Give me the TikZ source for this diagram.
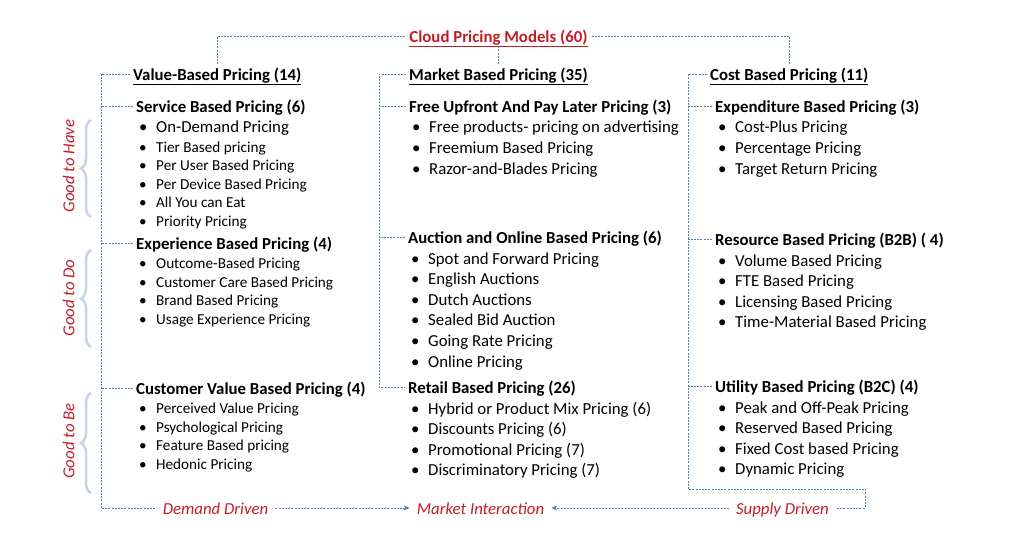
\documentclass[tikz,border=0pt]{standalone}
\usepackage{fontspec}
\setmainfont{Carlito}
\usetikzlibrary{positioning,arrows.meta,decorations.pathreplacing}

\definecolor{linkblue}{RGB}{84,130,180}
\definecolor{labelred}{RGB}{192,30,40}
\definecolor{bracegrey}{RGB}{200,210,232}

\begin{document}
\begin{tikzpicture}[x=1pt, y=1pt,
        textnode/.style={inner xsep=3pt, inner ysep=0pt, text height=16.5pt, text depth=3.7pt},
        titlenode/.style={textnode, inner xsep=4pt, font=\fontsize{16.8}{20}\selectfont\bfseries, text=labelred},
        headnode/.style={textnode, anchor=west, font=\fontsize{16.8}{20}\selectfont\bfseries},
        bignode/.style={textnode, font=\fontsize{16.8}{20}\selectfont,
            execute at begin node={\hspace*{3pt}\makebox[17pt][l]{\textbullet}}},
        smallnode/.style={bignode, text height=15pt, text depth=3.2pt, font=\fontsize{15.2}{18}\selectfont},
        drivenode/.style={textnode, inner xsep=7pt, font=\fontsize{16.8}{20}\selectfont\itshape, text=labelred},
        sidenode/.style={drivenode, inner xsep=0pt, rotate=90},
        treeline/.style={draw=linkblue, line width=0.7pt, dash pattern=on 2pt off 1.2pt},
        bracket/.style={draw=bracegrey, line width=2.5pt, decorate, decoration={brace, amplitude=10pt}},
        node distance=0pt
    ]
    \useasboundingbox (0,0) rectangle (1024,-537);

    %Nodes: root and the three families
    \node[titlenode] (cloud_title) at (498.5,-36) {\underline{Cloud Pricing Models (60)}};
    \node[headnode]  (value_head)  at (130,-74)   {\underline{Value-Based Pricing (14)}};
    \node[headnode]  (market_head) at (406,-74)   {\underline{Market Based Pricing (35)}};
    \node[headnode]  (cost_head)   at (707,-74)   {\underline{Cost Based Pricing (11)}};

    %Nodes: value based
    \node[headnode]  (service_head) at (133,-106) {Service Based Pricing (6)};
    \node[bignode]   (service_a) [below right=of service_head.south west] {On-Demand Pricing};
    \node[smallnode] (service_b) [below right=of service_a.south west]    {Tier Based pricing};
    \node[smallnode] (service_c) [below right=of service_b.south west]    {Per User Based Pricing};
    \node[smallnode] (service_d) [below right=of service_c.south west]    {Per Device Based Pricing};
    \node[smallnode] (service_e) [below right=of service_d.south west]    {All You can Eat};
    \node[smallnode] (service_f) [below right=of service_e.south west]    {Priority Pricing};

    \node[headnode]  (experience_head) at (133,-243) {Experience Based Pricing (4)};
    \node[smallnode] (experience_a) [below right=of experience_head.south west] {Outcome-Based Pricing};
    \node[smallnode] (experience_b) [below right=of experience_a.south west]    {Customer Care Based Pricing};
    \node[smallnode] (experience_c) [below right=of experience_b.south west]    {Brand Based Pricing};
    \node[smallnode] (experience_d) [below right=of experience_c.south west]    {Usage Experience Pricing};

    \node[headnode]  (customer_head) at (133,-388) {Customer Value Based Pricing (4)};
    \node[smallnode] (customer_a) [below right=of customer_head.south west] {Perceived Value Pricing};
    \node[smallnode] (customer_b) [below right=of customer_a.south west]    {Psychological Pricing};
    \node[smallnode] (customer_c) [below right=of customer_b.south west]    {Feature Based pricing};
    \node[smallnode] (customer_d) [below right=of customer_c.south west]    {Hedonic Pricing};

    %Nodes: market based
    \node[headnode] (free_head) at (406,-106) {Free Upfront And Pay Later Pricing (3)};
    \node[bignode]  (free_a) [below right=of free_head.south west] {Free products- pricing on advertising};
    \node[bignode]  (free_b) [below right=of free_a.south west]    {Freemium Based Pricing};
    \node[bignode]  (free_c) [below right=of free_b.south west]    {Razor-and-Blades Pricing};

    \node[headnode] (auction_head) at (405,-237) {Auction and Online Based Pricing (6)};
    \node[bignode]  (auction_a) [below right=of auction_head.south west] {Spot and Forward Pricing};
    \node[bignode]  (auction_b) [below right=of auction_a.south west]    {English Auctions};
    \node[bignode]  (auction_c) [below right=of auction_b.south west]    {Dutch Auctions};
    \node[bignode]  (auction_d) [below right=of auction_c.south west]    {Sealed Bid Auction};
    \node[bignode]  (auction_e) [below right=of auction_d.south west]    {Going Rate Pricing};
    \node[bignode]  (auction_f) [below right=of auction_e.south west]    {Online Pricing};

    \node[headnode] (retail_head) at (405,-387) {Retail Based Pricing (26)};
    \node[bignode]  (retail_a) [below right=of retail_head.south west] {Hybrid or Product Mix Pricing (6)};
    \node[bignode]  (retail_b) [below right=of retail_a.south west]    {Discounts Pricing (6)};
    \node[bignode]  (retail_c) [below right=of retail_b.south west]    {Promotional Pricing (7)};
    \node[bignode]  (retail_d) [below right=of retail_c.south west]    {Discriminatory Pricing (7)};

    %Nodes: cost based
    \node[headnode] (expend_head) at (712,-106) {Expenditure Based Pricing (3)};
    \node[bignode]  (expend_a) [below right=of expend_head.south west] {Cost-Plus Pricing};
    \node[bignode]  (expend_b) [below right=of expend_a.south west]    {Percentage Pricing};
    \node[bignode]  (expend_c) [below right=of expend_b.south west]    {Target Return Pricing};

    \node[headnode] (resource_head) at (712,-239) {Resource Based Pricing (B2B) ( 4)};
    \node[bignode]  (resource_a) [below right=of resource_head.south west] {Volume Based Pricing};
    \node[bignode]  (resource_b) [below right=of resource_a.south west]    {FTE Based Pricing};
    \node[bignode]  (resource_c) [below right=of resource_b.south west]    {Licensing Based Pricing};
    \node[bignode]  (resource_d) [below right=of resource_c.south west]    {Time-Material Based Pricing};

    \node[headnode] (utility_head) at (712,-386) {Utility Based Pricing (B2C) (4)};
    \node[bignode]  (utility_a) [below right=of utility_head.south west] {Peak and Off-Peak Pricing};
    \node[bignode]  (utility_b) [below right=of utility_a.south west]    {Reserved Based Pricing};
    \node[bignode]  (utility_c) [below right=of utility_b.south west]    {Fixed Cost based Pricing};
    \node[bignode]  (utility_d) [below right=of utility_c.south west]    {Dynamic Pricing};

    %Nodes: drivers along the bottom
    \node[drivenode] (demand_label)      at (215.5,-508) {Demand Driven};
    \node[drivenode] (interaction_label) at (480.5,-508) {Market Interaction};
    \node[drivenode] (supply_label)      at (782.5,-508) {Supply Driven};

    %Braces and side labels
    \draw[bracket] (91,-217) -- (91,-120);
    \draw[bracket] (91,-347) -- (91,-250);
    \draw[bracket] (91,-493) -- (91,-393);
    \node[sidenode] (have_label) at (68,-166) {Good to Have};
    \node[sidenode] (do_label)   at (68,-298) {Good to Do};
    \node[sidenode] (be_label)   at (68,-441) {Good to Be};

    %Dashed lines: root to families
    \coordinate (value_corner)  at (101,-508);
    \coordinate (market_spine)  at (379,0);
    \coordinate (cost_corner)   at (688,-489);
    \coordinate (supply_corner) at (865,-489);

    \draw[treeline] (cloud_title.west)  -| (value_head.north);
    \draw[treeline] (cloud_title.south) -- (cloud_title.south |- market_head.north);
    \draw[treeline] (cloud_title.east)  -| (cost_head.north);

    %Dashed lines: value spine
    \draw[treeline] (value_head.west) -| (value_corner) -- (demand_label.west);
    \draw[treeline] (service_head.west)    -- (service_head.west -| value_corner);
    \draw[treeline] (experience_head.west) -- (experience_head.west -| value_corner);
    \draw[treeline] (customer_head.west)   -- (customer_head.west -| value_corner);

    %Dashed lines: market spine
    \draw[treeline] (market_head.west) -| (market_spine |- retail_head.west) -- (retail_head.west);
    \draw[treeline] (free_head.west)    -- (free_head.west -| market_spine);
    \draw[treeline] (auction_head.west) -- (auction_head.west -| market_spine);

    %Dashed lines: cost spine
    \draw[treeline] (cost_head.west) -| (cost_corner) -- (supply_corner) |- (supply_label.east);
    \draw[treeline] (expend_head.west)   -- (expend_head.west -| cost_corner);
    \draw[treeline] (resource_head.west) -- (resource_head.west -| cost_corner);
    \draw[treeline] (utility_head.west)  -- (utility_head.west -| cost_corner);

    %Arrows: drivers meet in the market
    \draw[treeline, -{Stealth[length=6pt, width=5pt]}] (demand_label.east) -- (interaction_label.west);
    \draw[treeline, -{Stealth[length=6pt, width=5pt]}] (supply_label.west) -- (interaction_label.east);
\end{tikzpicture}
\end{document}
